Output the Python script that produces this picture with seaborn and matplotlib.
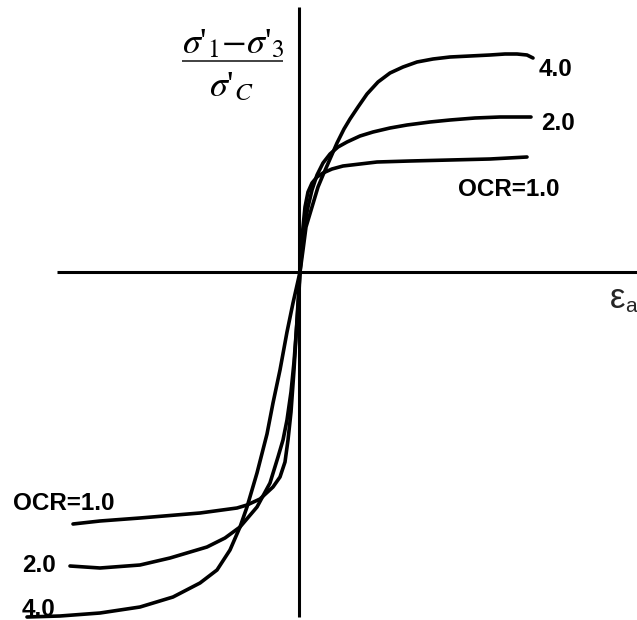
import numpy as np
import pandas as pd
import matplotlib
matplotlib.use('Agg')
import matplotlib.pyplot as plt
import seaborn as sns

# Curve readings (axial strain, normalised deviator stress)
ocr_labels = ['1.0', '2.0', '4.0']

strain_ocr1 = [-2.27, -2.00, -1.60, -1.00, -0.63, -0.53, -0.40, -0.27, -0.20, -0.15, -0.12,
               -0.09, -0.06, -0.04, -0.02, 0.0,
               0.01, 0.03, 0.05, 0.08, 0.12, 0.17, 0.23, 0.32, 0.43, 0.60, 0.77, 1.10,
               1.50, 1.90, 2.27]
stress_ocr1 = [-2.52, -2.49, -2.46, -2.41, -2.36, -2.33, -2.27, -2.15, -2.05, -1.90, -1.68,
               -1.40, -0.98, -0.65, -0.31, 0.0,
               0.22, 0.45, 0.65, 0.80, 0.89, 0.95, 0.99, 1.03, 1.06, 1.08, 1.10, 1.11,
               1.12, 1.13, 1.15]

strain_ocr2 = [-2.30, -2.00, -1.60, -1.30, -0.93, -0.75, -0.60, -0.43, -0.30, -0.22, -0.17,
               -0.13, -0.09, -0.06, -0.03, -0.01, 0.0,
               0.02, 0.04, 0.08, 0.12, 0.17, 0.23, 0.30, 0.38, 0.47, 0.60, 0.73, 0.90,
               1.07, 1.30, 1.50, 1.75, 2.00, 2.31]
stress_ocr2 = [-2.94, -2.96, -2.93, -2.86, -2.75, -2.66, -2.55, -2.35, -2.11, -1.85, -1.68,
               -1.48, -1.20, -0.90, -0.50, -0.20, 0.0,
               0.22, 0.45, 0.65, 0.82, 0.97, 1.09, 1.18, 1.25, 1.30, 1.36, 1.40, 1.44,
               1.47, 1.50, 1.52, 1.54, 1.55, 1.55]

strain_ocr4 = [-2.73, -2.40, -2.00, -1.60, -1.27, -1.00, -0.83, -0.70, -0.60, -0.53, -0.43,
               -0.33, -0.27, -0.20, -0.13, -0.07, 0.0,
               0.03, 0.06, 0.12, 0.18, 0.23, 0.30, 0.37, 0.44, 0.50, 0.58, 0.67, 0.78,
               0.90, 1.03, 1.17, 1.33, 1.50, 1.70, 1.90, 2.05, 2.17, 2.27, 2.33]
stress_ocr4 = [-3.45, -3.44, -3.41, -3.35, -3.25, -3.11, -2.98, -2.78, -2.55, -2.35, -2.01,
               -1.62, -1.31, -0.98, -0.60, -0.31, 0.0,
               0.22, 0.45, 0.65, 0.85, 0.97, 1.13, 1.29, 1.43, 1.53, 1.65, 1.78, 1.90,
               1.99, 2.05, 2.10, 2.13, 2.15, 2.16, 2.17, 2.18, 2.18, 2.17, 2.14]

frames = []
for lab, xs, ys in zip(ocr_labels,
                       [strain_ocr1, strain_ocr2, strain_ocr4],
                       [stress_ocr1, stress_ocr2, stress_ocr4]):
    frames.append(pd.DataFrame({'strain': xs, 'stress': ys, 'OCR': lab}))
df = pd.concat(frames, ignore_index=True)

sns.set_style('white')
plt.rcParams['mathtext.fontset'] = 'stix'

fig = plt.figure(figsize=(6.37, 6.2), dpi=100)
ax = fig.add_axes([0, 0, 1, 1])
ax.set_xlim(-3.0, 3.37)
ax.set_ylim(-3.48, 2.72)
ax.axis('off')

# axes through the origin
ax.plot([-2.43, 3.37], [0, 0], color='black', lw=2.2, solid_capstyle='butt')
ax.plot([-0.01, -0.01], [-3.45, 2.65], color='black', lw=2.2, solid_capstyle='butt')

sns.lineplot(data=df, x='strain', y='stress', hue='OCR', units='OCR',
             palette={'1.0': 'black', '2.0': 'black', '4.0': 'black'},
             estimator=None, sort=False, linewidth=2.6, legend=False, ax=ax)
for ln in ax.lines[2:]:
    ln.set_solid_joinstyle('round')

bold = dict(fontsize=17.5, fontweight='bold', family='Liberation Sans', va='center',
            ha='left', color='black')
ax.text(2.39, 2.03, '4.0', **bold)
ax.text(2.41, 1.49, '2.0', **bold)
ax.text(1.58, 0.83, 'OCR=1.0', **bold)
ax.text(-2.87, -2.32, 'OCR=1.0', **bold)
ax.text(-2.78, -2.93, '2.0', **bold)
ax.text(-2.78, -3.38, '4.0', **bold)

# y-axis label as a stacked fraction
serif = dict(family='Liberation Serif', ha='center', va='center', color='black')
ax.text(-0.67, 2.27, r"$\sigma$'$_1$$-$$\sigma$'$_3$", fontsize=26, **serif)
ax.plot([-1.18, -0.17], [2.11, 2.11], color='#333333', lw=1.3, solid_capstyle='butt')
ax.text(-0.69, 1.84, r"$\sigma$'$_{\mathit{C}}$", fontsize=26, **serif)

# x-axis label
ax.text(3.18, -0.26, 'ε', fontsize=25, family='Liberation Sans', ha='center', va='center')
ax.text(3.255, -0.35, 'a', fontsize=15, family='Liberation Sans', ha='left', va='center')

fig.savefig('out.png', dpi=100)
